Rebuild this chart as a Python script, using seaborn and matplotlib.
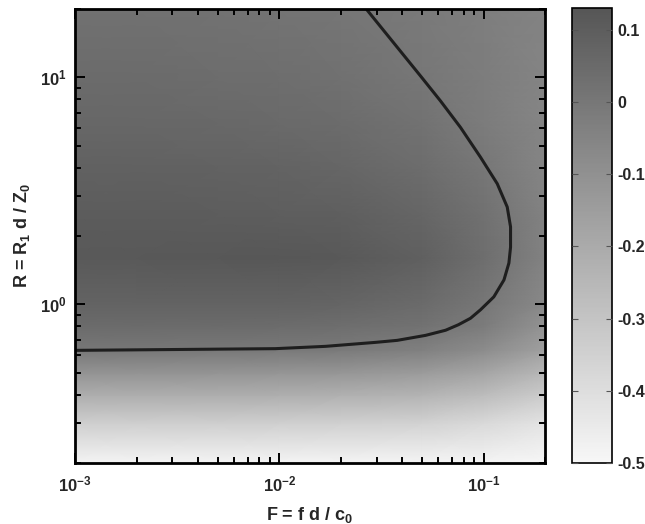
import numpy as np
import matplotlib
matplotlib.use("Agg")
import matplotlib.pyplot as plt
from matplotlib.ticker import FuncFormatter
import seaborn as sns
import pandas as pd

# ---- data ----
F_grid = [0.001, 0.002, 0.005, 0.01, 0.02, 0.05, 0.1, 0.2]
R_grid = [0.2, 0.3, 0.4, 0.5, 0.63, 0.8, 1.0, 1.6, 2.5, 4.0, 6.3, 10.0, 20.0]

row_R020 = [-0.49, -0.49, -0.49, -0.49, -0.49, -0.49, -0.49, -0.50]
row_R030 = [-0.34, -0.34, -0.34, -0.342, -0.345, -0.355, -0.38, -0.42]
row_R040 = [-0.21, -0.21, -0.21, -0.215, -0.22, -0.235, -0.27, -0.33]
row_R050 = [-0.11, -0.11, -0.112, -0.115, -0.12, -0.14, -0.18, -0.25]
row_R063 = [0.0, -0.001, -0.003, -0.006, -0.012, -0.035, -0.08, -0.16]
row_R080 = [0.045, 0.045, 0.044, 0.042, 0.036, 0.018, -0.02, -0.11]
row_R100 = [0.08, 0.08, 0.08, 0.078, 0.072, 0.045, 0.002, -0.07]
row_R160 = [0.118, 0.119, 0.121, 0.123, 0.12, 0.09, 0.035, -0.04]
row_R250 = [0.103, 0.103, 0.102, 0.099, 0.092, 0.065, 0.025, -0.04]
row_R400 = [0.085, 0.085, 0.082, 0.077, 0.066, 0.038, 0.0, -0.055]
row_R630 = [0.062, 0.062, 0.058, 0.052, 0.042, 0.017, -0.018, -0.055]
row_R1000 = [0.045, 0.044, 0.04, 0.035, 0.024, -0.001, -0.025, -0.05]
row_R2000 = [0.025, 0.024, 0.02, 0.014, 0.005, -0.012, -0.028, -0.045]

# zero-level contour line
contour_F = [0.001, 0.00956, 0.0168, 0.0296, 0.0378, 0.052, 0.0652, 0.0753,
             0.0863, 0.0966, 0.1123, 0.1259, 0.1331, 0.1356, 0.1356, 0.1306,
             0.1167, 0.0966, 0.0771, 0.0615, 0.0491, 0.0407, 0.0269]
contour_R = [0.627, 0.638, 0.653, 0.680, 0.694, 0.730, 0.769, 0.813,
             0.868, 0.946, 1.079, 1.281, 1.520, 1.787, 2.194, 2.685,
             3.40, 4.45, 6.02, 7.88, 10.15, 12.5, 19.8]

cbar_ticks = [-0.5, -0.4, -0.3, -0.2, -0.1, 0, 0.1]
x_label = r"F = f d / c$_\mathbf{0}$"
y_label = r"R = R$_\mathbf{1}$ d / Z$_\mathbf{0}$"

# ---- style ----
sns.set_theme(style="ticks")
plt.rcParams["font.family"] = ["Liberation Sans", "DejaVu Sans"]
plt.rcParams["font.weight"] = "bold"
plt.rcParams["axes.unicode_minus"] = False
plt.rcParams["axes.axisbelow"] = False
plt.rcParams["mathtext.fontset"] = "custom"
plt.rcParams["mathtext.rm"] = "Liberation Sans:bold"
plt.rcParams["mathtext.it"] = "Liberation Sans:bold"
plt.rcParams["mathtext.bf"] = "Liberation Sans:bold"
plt.rcParams["mathtext.default"] = "bf"

Z = np.array([row_R020, row_R030, row_R040, row_R050, row_R063, row_R080,
              row_R100, row_R160, row_R250, row_R400, row_R630, row_R1000,
              row_R2000])
FF, RR = np.meshgrid(F_grid, R_grid)

cmap = sns.blend_palette(["#f7f7f7", "#565656"], as_cmap=True)

fig = plt.figure(figsize=(6.45, 5.24), dpi=100)
ax = fig.add_axes([0.1163, 0.1164, 0.7287, 0.8664])
cax = fig.add_axes([0.8868, 0.1164, 0.062, 0.8683])

mesh = ax.pcolormesh(FF, RR, Z, shading="gouraud", cmap=cmap,
                     vmin=-0.5, vmax=0.13, rasterized=True)

cdf = pd.DataFrame({"F": contour_F, "R": contour_R})
sns.lineplot(data=cdf, x="F", y="R", sort=False, estimator=None,
             color="#1e1e1e", linewidth=2.2, ax=ax,
             solid_joinstyle="round", solid_capstyle="round")

ax.set_xscale("log")
ax.set_yscale("log")
ax.set_xlim(F_grid[0], F_grid[-1])
ax.set_ylim(R_grid[0], R_grid[-1])
ax.set_axisbelow(False)
ax.set_xlabel(x_label, fontsize=13, fontweight="bold", labelpad=8)
ax.set_ylabel(y_label, fontsize=13, fontweight="bold", labelpad=6)

ax.tick_params(which="both", direction="in", top=True, right=True,
               color="black", labelsize=12)
ax.tick_params(which="major", length=7, width=1.4)
ax.tick_params(which="minor", length=4, width=1.4)
for s in ax.spines.values():
    s.set_linewidth(2)
    s.set_color("black")
ax.tick_params(axis="x", pad=8)
ax.tick_params(axis="y", pad=6)
for lbl in ax.get_xticklabels() + ax.get_yticklabels():
    lbl.set_fontweight("bold")

cb = fig.colorbar(mesh, cax=cax)
cb.set_ticks(cbar_ticks)
cb.ax.set_axisbelow(False)
cb.ax.yaxis.set_major_formatter(FuncFormatter(lambda v, p: "%g" % round(v, 2)))
cb.ax.tick_params(direction="in", length=4, width=0.8, labelsize=11.5,
                  left=True, right=True, color="#555555", pad=4)
cb.outline.set_linewidth(1.2)
cb.outline.set_edgecolor("black")
for lbl in cb.ax.get_yticklabels():
    lbl.set_fontweight("bold")

fig.savefig("out.png", dpi=100)
